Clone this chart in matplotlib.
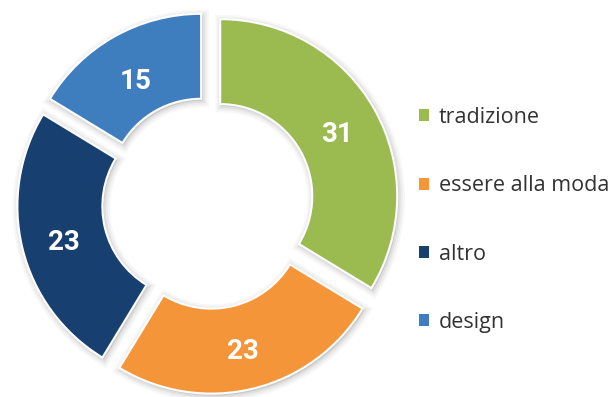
import matplotlib
matplotlib.use('Agg')
import matplotlib.pyplot as plt
from matplotlib.patches import Patch

# dati del grafico
categorie = ['tradizione', 'essere alla moda', 'altro', 'design']
valori = [31, 23, 23, 15]
colori = ['#9bbb50', '#f5953a', '#173f70', '#3e7dbe']

W, H = 616, 397
fig = plt.figure(figsize=(W / 100, H / 100), dpi=100)
ax = fig.add_axes([0, 0, 1, 1])

# coordinate in pixel: centro, raggio e distacco degli spicchi
cx, cy = 208, H - 203
raggio = 177
spessore = 0.48
distacco = [14] * len(valori)
totale = sum(valori)

# ombra sfumata sotto gli spicchi
for lw, alpha in [(9, 0.06), (6, 0.08), (3, 0.12)]:
    ax.pie(valori, explode=distacco, radius=raggio, center=(cx + 1.5, cy - 2),
           startangle=90, counterclock=False, colors=['#808080'] * len(valori),
           wedgeprops=dict(width=raggio * spessore, edgecolor='#808080',
                           linewidth=lw, alpha=alpha))

_, _, etichette = ax.pie(
    valori, explode=distacco, radius=raggio, center=(cx, cy),
    startangle=90, counterclock=False, colors=colori,
    wedgeprops=dict(width=raggio * spessore, edgecolor='white', linewidth=1.5),
    autopct=lambda p: f'{p * totale / 100:.0f}', pctdistance=0.76,
    textprops=dict(color='white', fontsize=20, fontweight='bold', family='Roboto'))

# le cifre stanno un po' più in basso nell'anello
for i, t in enumerate(etichette):
    x, y = t.get_position()
    t.set_position((x, y - (8 if i == 3 else 4)))

ax.set_xlim(0, W)
ax.set_ylim(0, H)
ax.axis('off')

# legenda a destra
maniglie = [Patch(facecolor=c, edgecolor='none') for c in colori]
ax.legend(maniglie, categorie, loc='center left',
          bbox_to_anchor=(419 / W, 1 - 220 / H), bbox_transform=fig.transFigure,
          frameon=False, labelcolor='#333333',
          prop=dict(family='Open Sans', size=15.5),
          handlelength=0.47, handleheight=0.47, handletextpad=0.45,
          labelspacing=2.2, borderpad=0, borderaxespad=0)

fig.savefig('out.png', dpi=100)
